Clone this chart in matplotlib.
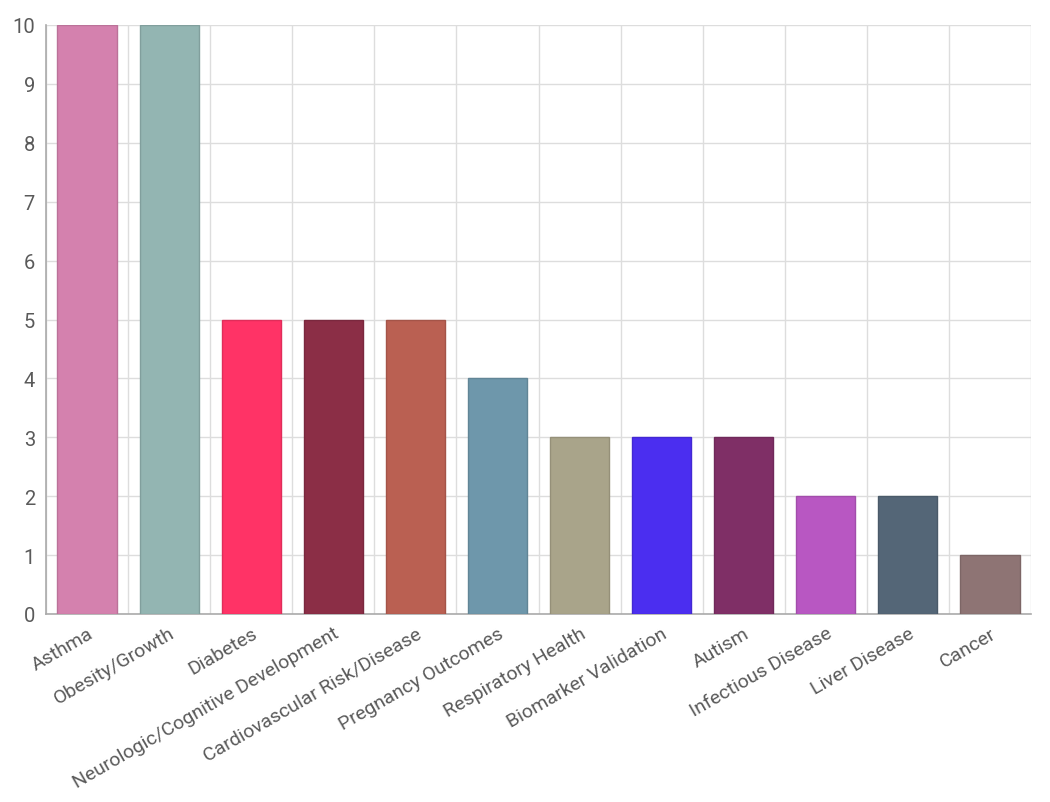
import matplotlib
matplotlib.use("Agg")
import matplotlib.pyplot as plt
import numpy as np

plt.rcParams["font.family"] = ["Roboto", "DejaVu Sans"]

categories = ["Asthma", "Obesity/Growth", "Diabetes", "Neurologic/Cognitive Development",
              "Cardiovascular Risk/Disease", "Pregnancy Outcomes", "Respiratory Health",
              "Biomarker Validation", "Autism", "Infectious Disease", "Liver Disease", "Cancer"]
counts = [10, 10, 5, 5, 5, 4, 3, 3, 3, 2, 2, 1]
colors = ["#D481AE", "#93B5B2", "#FF3366", "#8B2E46", "#BA6052", "#6E97AB",
          "#A9A48A", "#4B2EF0", "#7F2F66", "#B857C2", "#546677", "#8E7474"]

fig = plt.figure(figsize=(10.5, 8.03), dpi=100)
ax = fig.add_axes([46 / 1050, 1 - 615 / 803, (1031 - 46) / 1050, (615 - 26) / 803])

x = np.arange(len(categories))
bars = ax.bar(x, counts, width=0.72, color=colors, linewidth=1, zorder=3)
# slightly darker outline on each bar
for b in bars:
    b.set_edgecolor(tuple(c * 0.88 for c in b.get_facecolor()[:3]))

ax.set_xlim(-0.5, len(categories) - 0.5)
ax.set_ylim(0, 10)
ax.set_yticks(range(0, 11))
ax.set_xticks(x)
ax.set_xticklabels(categories, rotation=30, ha="right", rotation_mode="anchor",
                   fontsize=14, color="#5a5a5a")
ax.tick_params(axis="y", labelsize=14.5, colors="#5a5a5a", length=0, pad=8)
ax.tick_params(axis="x", length=0, pad=7)

ax.set_xticks(np.arange(-0.5, len(categories), 1), minor=True)
ax.tick_params(axis="x", which="minor", length=0)
ax.grid(True, axis="x", which="minor", color="#dddddd", linewidth=1, zorder=0)
ax.grid(True, axis="y", which="major", color="#dddddd", linewidth=1, zorder=0)

for s in ["top", "right"]:
    ax.spines[s].set_visible(False)
for s in ["left", "bottom"]:
    ax.spines[s].set_color("#aaaaaa")
    ax.spines[s].set_linewidth(1.2)

fig.savefig("out.png", dpi=100)
